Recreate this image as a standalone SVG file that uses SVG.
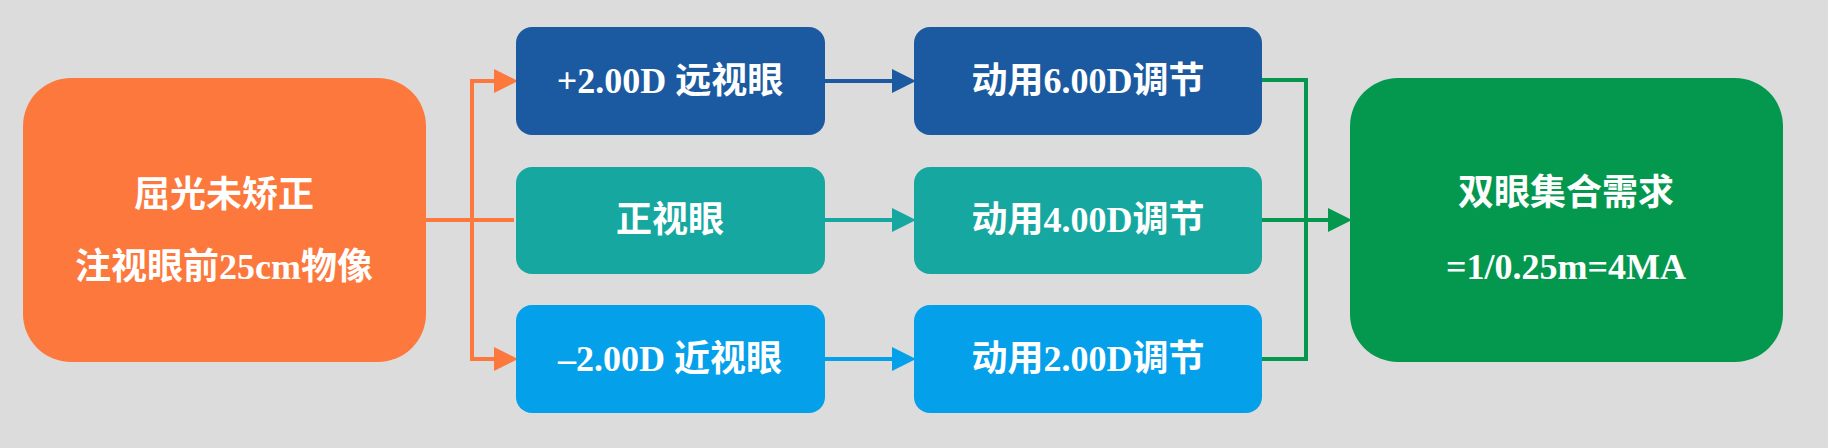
<svg xmlns="http://www.w3.org/2000/svg" width="1828" height="448" viewBox="0 0 1828 448">
<style>
text{font-family:"Liberation Serif","Noto Sans CJK SC",serif;font-weight:bold;fill:#fff;font-size:36px;text-anchor:middle;dominant-baseline:central}
.c{fill:none;stroke-width:4}
</style>
<defs>
<marker id="mo" markerWidth="6" markerHeight="6" refX="5" refY="3" orient="auto" markerUnits="strokeWidth"><path d="M0,0L6,3L0,6z" fill="#FC783D"/></marker>
<marker id="m1" markerWidth="6" markerHeight="6" refX="5" refY="3" orient="auto" markerUnits="strokeWidth"><path d="M0,0L6,3L0,6z" fill="#1B5AA0"/></marker>
<marker id="m2" markerWidth="6" markerHeight="6" refX="5" refY="3" orient="auto" markerUnits="strokeWidth"><path d="M0,0L6,3L0,6z" fill="#16A8A0"/></marker>
<marker id="m3" markerWidth="6" markerHeight="6" refX="5" refY="3" orient="auto" markerUnits="strokeWidth"><path d="M0,0L6,3L0,6z" fill="#04A0EA"/></marker>
<marker id="mg" markerWidth="6" markerHeight="6" refX="5" refY="3" orient="auto" markerUnits="strokeWidth"><path d="M0,0L6,3L0,6z" fill="#04984E"/></marker>
</defs>
<rect width="1828" height="448" fill="#DCDCDC"/>
<g id="connectors">
<path class="c" stroke="#FC783D" d="M426,220H514"/>
<path class="c" stroke="#FC783D" d="M472,359V81H514" marker-end="url(#mo)"/>
<path class="c" stroke="#FC783D" d="M472,81V359H514" marker-end="url(#mo)"/>
<path class="c" stroke="#1B5AA0" d="M825,81H912" marker-end="url(#m1)"/>
<path class="c" stroke="#16A8A0" d="M825,220H912" marker-end="url(#m2)"/>
<path class="c" stroke="#04A0EA" d="M825,359H912" marker-end="url(#m3)"/>
<path class="c" stroke="#04984E" d="M1262,80H1306V359H1262"/>
<path class="c" stroke="#04984E" d="M1262,220H1348" marker-end="url(#mg)"/>
</g>
<g id="n0"><rect x="23" y="78" width="403" height="284" rx="48" fill="#FC783D"/><text x="224" y="195">屈光未矫正</text><text x="224" y="267">注视眼前25cm物像</text></g>
<g id="n1"><rect x="516" y="27" width="309" height="108" rx="16" fill="#1B5AA0"/><text x="670" y="81">+2.00D 远视眼</text></g>
<g id="n2"><rect x="516" y="167" width="309" height="107" rx="16" fill="#16A8A0"/><text x="670" y="220">正视眼</text></g>
<g id="n3"><rect x="516" y="305" width="309" height="108" rx="16" fill="#04A0EA"/><text x="670" y="359">–2.00D 近视眼</text></g>
<g id="n4"><rect x="914" y="27" width="348" height="108" rx="16" fill="#1B5AA0"/><text x="1088" y="81">动用6.00D调节</text></g>
<g id="n5"><rect x="914" y="167" width="348" height="107" rx="16" fill="#16A8A0"/><text x="1088" y="220">动用4.00D调节</text></g>
<g id="n6"><rect x="914" y="305" width="348" height="108" rx="16" fill="#04A0EA"/><text x="1088" y="359">动用2.00D调节</text></g>
<g id="n7"><rect x="1350" y="78" width="433" height="284" rx="48" fill="#04984E"/><text x="1566" y="193">双眼集合需求</text><text x="1566" y="267">=1/0.25m=4MA</text></g>
</svg>
